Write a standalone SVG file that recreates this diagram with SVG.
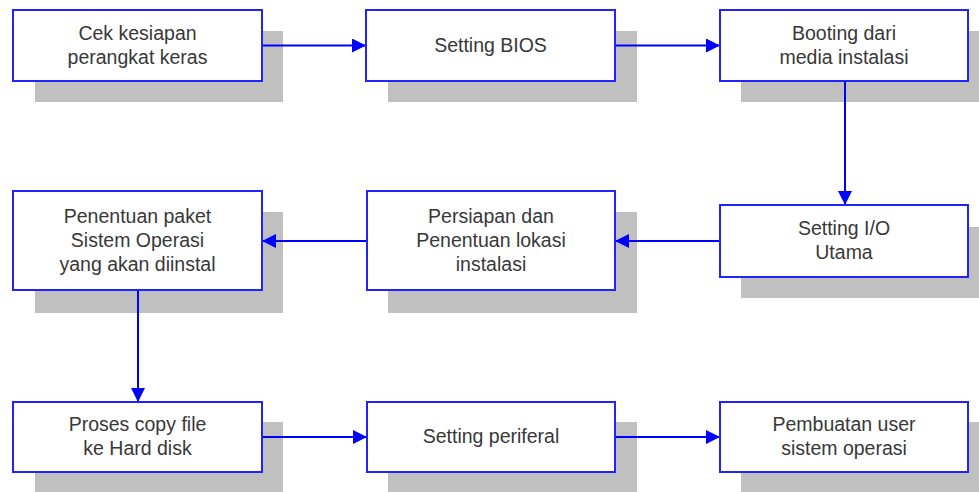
<svg xmlns="http://www.w3.org/2000/svg" width="979" height="492" viewBox="0 0 979 492">
<style>
.sh{fill:#c0c0c0}
.bx{fill:#ffffff;stroke:#2222ff;stroke-width:2}
.t{font-family:"Liberation Sans",Arial,sans-serif;font-size:19.5px;fill:#383838;text-anchor:middle}
.c{stroke:#0000ff;stroke-width:2;fill:none;marker-end:url(#ah)}
</style>
<defs>
<marker id="ah" markerUnits="userSpaceOnUse" markerWidth="16" markerHeight="14" refX="14" refY="7" orient="auto">
<path d="M0,0 L14,7 L0,14 Z" fill="#0000ff"/>
</marker>
</defs>
<rect width="979" height="492" fill="#ffffff"/>
<g id="shadows">
<rect class="sh" x="35" y="31" width="248" height="71"/>
<rect class="sh" x="388" y="31" width="249" height="71"/>
<rect class="sh" x="741" y="31" width="238" height="71"/>
<rect class="sh" x="35" y="212" width="248" height="101"/>
<rect class="sh" x="388" y="212" width="249" height="101"/>
<rect class="sh" x="741" y="227" width="238" height="71"/>
<rect class="sh" x="35" y="422" width="248" height="70"/>
<rect class="sh" x="388" y="422" width="249" height="70"/>
<rect class="sh" x="741" y="422" width="238" height="70"/>
</g>
<g id="connectors">
<line class="c" x1="262" y1="45.5" x2="366" y2="45.5"/>
<line class="c" x1="615" y1="45.5" x2="720" y2="45.5"/>
<line class="c" x1="845" y1="81" x2="845" y2="205"/>
<line class="c" x1="720" y1="241" x2="615" y2="241"/>
<line class="c" x1="367" y1="241" x2="262" y2="241"/>
<line class="c" x1="138" y1="290" x2="138" y2="402"/>
<line class="c" x1="262" y1="437" x2="367" y2="437"/>
<line class="c" x1="615" y1="437" x2="720" y2="437"/>
</g>
<g id="n1">
<rect class="bx" x="13" y="10" width="249" height="71"/>
<text class="t" x="137.5" y="39.5">Cek kesiapan</text>
<text class="t" x="137.5" y="63.5">perangkat keras</text>
</g>
<g id="n2">
<rect class="bx" x="366" y="10" width="249" height="71"/>
<text class="t" x="490.5" y="51.5">Setting BIOS</text>
</g>
<g id="n3">
<rect class="bx" x="720" y="10" width="248" height="71"/>
<text class="t" x="844" y="39.5">Booting dari</text>
<text class="t" x="844" y="63.5">media instalasi</text>
</g>
<g id="n4">
<rect class="bx" x="720" y="205" width="248" height="72"/>
<text class="t" x="844" y="235">Setting I/O</text>
<text class="t" x="844" y="259">Utama</text>
</g>
<g id="n5">
<rect class="bx" x="367" y="191" width="248" height="99"/>
<text class="t" x="491" y="223">Persiapan dan</text>
<text class="t" x="491" y="247">Penentuan lokasi</text>
<text class="t" x="491" y="271">instalasi</text>
</g>
<g id="n6">
<rect class="bx" x="13" y="191" width="249" height="99"/>
<text class="t" x="137.5" y="223">Penentuan paket</text>
<text class="t" x="137.5" y="247">Sistem Operasi</text>
<text class="t" x="137.5" y="271">yang akan diinstal</text>
</g>
<g id="n7">
<rect class="bx" x="13" y="402" width="249" height="70"/>
<text class="t" x="137.5" y="431">Proses copy file</text>
<text class="t" x="137.5" y="455">ke Hard disk</text>
</g>
<g id="n8">
<rect class="bx" x="367" y="402" width="248" height="70"/>
<text class="t" x="491" y="443">Setting periferal</text>
</g>
<g id="n9">
<rect class="bx" x="720" y="402" width="248" height="70"/>
<text class="t" x="844" y="431">Pembuatan user</text>
<text class="t" x="844" y="455">sistem operasi</text>
</g>
</svg>
